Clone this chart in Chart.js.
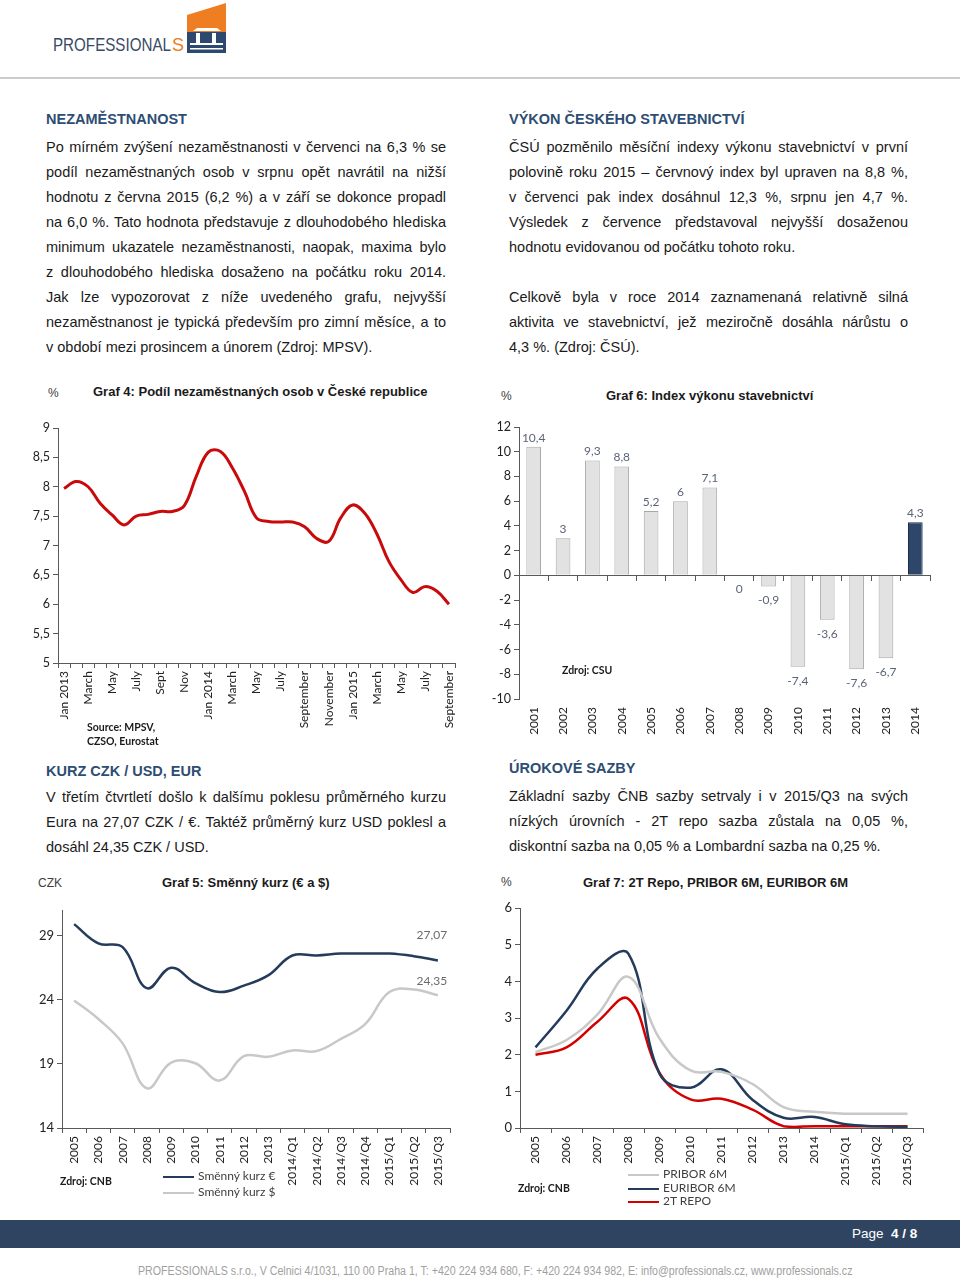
<!DOCTYPE html>
<html>
<head>
<meta charset="utf-8">
<script src="https://cdn.jsdelivr.net/npm/chart.js@4.4.0/dist/chart.umd.min.js"></script>
<style>
  body { margin: 0; width: 960px; height: 1282px; position: relative; background: #fff; font-family: "Liberation Sans", Arial, sans-serif; overflow: hidden; }
  .abs { position: absolute; }
  .head { position: absolute; font-size: 14.5px; font-weight: bold; color: #2e4d73; line-height: 25px; white-space: nowrap; }
  .para { position: absolute; font-size: 14.5px; color: #1a1a1a; line-height: 25px; }
  .para div { text-align: justify; text-align-last: justify; white-space: nowrap; }
  .para div.l { text-align: left; text-align-last: left; }
  .ctitle { position: absolute; font-size: 13px; font-weight: bold; color: #1a1a1a; white-space: nowrap; }
  .unit { position: absolute; font-size: 12px; color: #404040; }
  .src { position: absolute; font-family: Lato, "Open Sans", sans-serif; font-size: 10.5px; font-weight: bold; color: #1a1a1a; line-height: 14px; }
  .leg { position: absolute; font-family: Lato, "Open Sans", sans-serif; font-size: 12px; color: #404040; white-space: nowrap; }
  .leg span { display: inline-block; width: 31px; height: 0; border-top: 2.5px solid; vertical-align: middle; margin-right: 4px; }
  canvas { position: absolute; }
</style>
</head>
<body>

<!-- hlavicka -->
<svg class="abs" style="left:0;top:0" width="240" height="60">
  <polygon points="187,15 226,3 226,32 187,32" fill="#ef7d22"/>
  <polygon points="193,31 197,28 217,28 221,31" fill="#fff"/>
  <rect x="187" y="32" width="39" height="21" fill="#2d4a6e"/>
  <rect x="196" y="33" width="4" height="10" fill="#fff"/>
  <rect x="212" y="33" width="4" height="10" fill="#fff"/>
  <rect x="190" y="43" width="33" height="2" fill="#fff"/>
  <rect x="190" y="48" width="33" height="1.5" fill="#fff"/>
  <text x="53" y="51" font-family="Liberation Sans, Arial, sans-serif" font-size="18" textLength="118" lengthAdjust="spacingAndGlyphs" fill="#3a4a66">PROFESSIONAL</text>
  <text x="172" y="51" font-family="Liberation Sans, Arial, sans-serif" font-size="19" textLength="12" lengthAdjust="spacingAndGlyphs" fill="#ef7d22">S</text>
</svg>
<div class="abs" style="left:0;top:77px;width:960px;height:2px;background:#cbcbcb"></div>

<!-- texty nahore -->
<div class="head" style="left:46px;top:107px">NEZAMĚSTNANOST</div>
<div class="para" style="left:46px;top:135px;width:400px">
  <div>Po mírném zvýšení nezaměstnanosti v červenci na 6,3 % se</div>
  <div>podíl nezaměstnaných osob v srpnu opět navrátil na nižší</div>
  <div>hodnotu z června 2015 (6,2 %) a v září se dokonce propadl</div>
  <div>na 6,0 %. Tato hodnota představuje z dlouhodobého hlediska</div>
  <div>minimum ukazatele nezaměstnanosti, naopak, maxima bylo</div>
  <div>z dlouhodobého hlediska dosaženo na počátku roku 2014.</div>
  <div>Jak lze vypozorovat z níže uvedeného grafu, nejvyšší</div>
  <div>nezaměstnanost je typická především pro zimní měsíce, a to</div>
  <div class="l">v období mezi prosincem a únorem (Zdroj: MPSV).</div>
</div>

<div class="head" style="left:509px;top:107px">VÝKON ČESKÉHO STAVEBNICTVÍ</div>
<div class="para" style="left:509px;top:135px;width:399px">
  <div>ČSÚ pozměnilo měsíční indexy výkonu stavebnictví v první</div>
  <div>polovině roku 2015 – červnový index byl upraven na 8,8 %,</div>
  <div>v červenci pak index dosáhnul 12,3 %, srpnu jen 4,7 %.</div>
  <div>Výsledek z července představoval nejvyšší dosaženou</div>
  <div class="l">hodnotu evidovanou od počátku tohoto roku.</div>
  <div class="l">&nbsp;</div>
  <div>Celkově byla v roce 2014 zaznamenaná relativně silná</div>
  <div>aktivita ve stavebnictví, jež meziročně dosáhla nárůstu o</div>
  <div class="l">4,3 %. (Zdroj: ČSÚ).</div>
</div>

<!-- texty uprostred -->
<div class="head" style="left:46px;top:759px">KURZ CZK / USD, EUR</div>
<div class="para" style="left:46px;top:785px;width:400px">
  <div>V třetím čtvrtletí došlo k dalšímu poklesu průměrného kurzu</div>
  <div>Eura na 27,07 CZK / €. Taktéž průměrný kurz USD poklesl a</div>
  <div class="l">dosáhl 24,35 CZK / USD.</div>
</div>

<div class="head" style="left:509px;top:756px">ÚROKOVÉ SAZBY</div>
<div class="para" style="left:509px;top:784px;width:399px">
  <div>Základní sazby ČNB sazby setrvaly i v 2015/Q3 na svých</div>
  <div>nízkých úrovních - 2T repo sazba zůstala na 0,05 %,</div>
  <div class="l">diskontní sazba na 0,05 % a Lombardní sazba na 0,25 %.</div>
</div>

<!-- grafy -->
<canvas id="graf4" width="470" height="340" style="left:0;top:410px"></canvas>
<canvas id="graf6" width="470" height="340" style="left:480px;top:405px"></canvas>
<canvas id="graf5" width="470" height="320" style="left:0;top:890px"></canvas>
<canvas id="graf7" width="470" height="320" style="left:480px;top:890px"></canvas>

<div class="unit" style="left:48px;top:386px">%</div>
<div class="ctitle" style="left:93px;top:384px">Graf 4: Podíl nezaměstnaných osob v České republice</div>
<div class="src" style="left:87px;top:720px">Source: MPSV,<br>CZSO, Eurostat</div>

<div class="unit" style="left:501px;top:389px">%</div>
<div class="ctitle" style="left:606px;top:388px">Graf 6: Index výkonu stavebnictví</div>
<div class="src" style="left:562px;top:663px">Zdroj: CSU</div>

<div class="unit" style="left:38px;top:876px">CZK</div>
<div class="ctitle" style="left:162px;top:875px">Graf 5: Směnný kurz (€ a $)</div>
<div class="src" style="left:60px;top:1174px">Zdroj: CNB</div>
<div class="leg" style="left:163px;top:1168px"><span style="border-color:#243b5b"></span>Směnný kurz €</div>
<div class="leg" style="left:163px;top:1184px"><span style="border-color:#c8c8c8"></span>Směnný kurz $</div>

<div class="unit" style="left:501px;top:875px">%</div>
<div class="ctitle" style="left:583px;top:875px">Graf 7: 2T Repo, PRIBOR 6M, EURIBOR 6M</div>
<div class="src" style="left:518px;top:1181px">Zdroj: CNB</div>
<div class="leg" style="left:628px;top:1166px"><span style="border-color:#c8c8c8"></span>PRIBOR 6M</div>
<div class="leg" style="left:628px;top:1180px"><span style="border-color:#243b5b"></span>EURIBOR 6M</div>
<div class="leg" style="left:628px;top:1193px"><span style="border-color:#d40000"></span>2T REPO</div>

<!-- paticka -->
<div class="abs" style="left:0;top:1220px;width:960px;height:28px;background:#2e4461"></div>
<div class="abs" style="left:852px;top:1226px;font-size:13.5px;color:#fff;white-space:nowrap">Page &nbsp;<b>4 / 8</b></div>
<div class="abs" style="left:15px;top:1264px;width:960px;text-align:center;font-size:12.5px;color:#a0a0a0;white-space:nowrap">
  <span style="display:inline-block;transform:scaleX(0.85)">PROFESSIONALS s.r.o., V Celnici 4/1031, 110 00 Praha 1, T: +420 224 934 680, F: +420 224 934 982, E: info@professionals.cz, www.professionals.cz</span>
</div>

<script>
// GRAF 4 - nezamestnanost (mesice)
let months = ['Jan 2013', 'Feb', 'March', 'April', 'May', 'June', 'July', 'Aug', 'Sept', 'Oct', 'Nov', 'Dec',
    'Jan 2014', 'Feb', 'March', 'April', 'May', 'June', 'July', 'August', 'September', 'October', 'November', 'December',
    'Jan 2015', 'Feb', 'March', 'April', 'May', 'June', 'July', 'August', 'September'];
let unemployment = [7.97, 8.09, 8.0, 7.72, 7.52, 7.35, 7.5, 7.53, 7.58, 7.58, 7.68, 8.18, 8.59, 8.6, 8.32, 7.92, 7.47,
    7.41, 7.4, 7.4, 7.32, 7.12, 7.07, 7.47, 7.69, 7.55, 7.2, 6.73, 6.42, 6.2, 6.3, 6.22, 6.0];

// GRAF 6 - index stavebnictvi
let years6 = ['2001', '2002', '2003', '2004', '2005', '2006', '2007', '2008', '2009', '2010', '2011', '2012', '2013', '2014'];
let construction = [10.4, 3, 9.3, 8.8, 5.2, 6, 7.1, 0, -0.9, -7.4, -3.6, -7.6, -6.7, 4.3];

// GRAF 5 - smenny kurz
let kurzCategories = ['2005', '2006', '2007', '2008', '2009', '2010', '2011', '2012', '2013',
    '2014/Q1', '2014/Q2', '2014/Q3', '2014/Q4', '2015/Q1', '2015/Q2', '2015/Q3'];
let eurRate = [29.9, 28.4, 28.1, 24.9, 26.5, 25.3, 24.6, 25.1, 25.9, 27.45, 27.45, 27.6, 27.6, 27.6, 27.4, 27.07];
let usdRate = [23.95, 22.5, 20.6, 17.1, 19.1, 19.05, 17.7, 19.6, 19.55, 20.05, 20.0, 20.95, 22.1, 24.6, 24.8, 24.35];
let kurzTicks = [14, 19, 24, 29];

// GRAF 7 - urokove sazby
let rateCategories = ['2005', '2006', '2007', '2008', '2009', '2010', '2011', '2012', '2013', '2014', '2015/Q1', '2015/Q2', '2015/Q3'];
let pribor = [2.07, 2.4, 3.1, 4.12, 2.44, 1.57, 1.53, 1.2, 0.57, 0.44, 0.39, 0.39, 0.39];
let euribor = [2.2, 3.2, 4.35, 4.75, 1.48, 1.1, 1.6, 0.77, 0.28, 0.3, 0.1, 0.05, 0.03];
let repo = [2.0, 2.2, 2.9, 3.52, 1.5, 0.78, 0.8, 0.5, 0.05, 0.05, 0.05, 0.05, 0.05];

Chart.defaults.font.family = 'Lato, "Open Sans", sans-serif';
Chart.defaults.font.size = 12;
Chart.defaults.color = '#333';

let axisColor = '#595959';

function comma(v) {
    return String(v).replace('.', ',');
}

function catAxis(height) {
    return {
        offset: true,
        grid: { drawOnChartArea: false, offset: true, tickLength: 5, color: axisColor },
        border: { color: axisColor },
        ticks: { autoSkip: false, minRotation: 90, maxRotation: 90, padding: 3, color: '#222' },
        afterFit: function (s) { s.height = height; }
    };
}

function valAxis(width, min, max, step, size) {
    return {
        min: min,
        max: max,
        grid: { drawOnChartArea: false, tickLength: 5, color: axisColor },
        border: { color: axisColor },
        ticks: { stepSize: step, padding: 3, color: '#222', font: { size: size }, callback: v => comma(v) },
        afterFit: function (s) { s.width = width; }
    };
}

// popisky hodnot u sloupcu
let barLabels = {
    id: 'barLabels',
    afterDatasetsDraw(chart) {
        let ctx = chart.ctx;
        let meta = chart.getDatasetMeta(0);
        ctx.save();
        ctx.font = '12px Lato, "Open Sans", sans-serif';
        ctx.fillStyle = '#5b6478';
        ctx.textAlign = 'center';
        meta.data.forEach((bar, i) => {
            let v = chart.data.datasets[0].data[i];
            if (v > 0) {
                ctx.textBaseline = 'bottom';
                ctx.fillText(comma(v), bar.x, bar.y - 3);
            } else {
                ctx.textBaseline = 'top';
                ctx.fillText(comma(v), bar.x, bar.y + 8);
            }
        });
        ctx.restore();
    }
};

// popisek posledni hodnoty u car
let endLabels = {
    id: 'endLabels',
    afterDatasetsDraw(chart) {
        let ctx = chart.ctx;
        ctx.save();
        ctx.font = '12px Lato, "Open Sans", sans-serif';
        ctx.fillStyle = '#6b6b6b';
        ctx.textAlign = 'center';
        ctx.textBaseline = 'middle';
        chart.data.datasets.forEach((ds, d) => {
            if (!ds.endLabelDy) return;
            let pts = chart.getDatasetMeta(d).data;
            let last = pts[pts.length - 1];
            ctx.fillText(comma(ds.data[ds.data.length - 1]), last.x - 6, last.y - ds.endLabelDy);
        });
        ctx.restore();
    }
};

// GRAF 4
let axis4 = catAxis(87);
axis4.ticks.callback = (v, i) => i % 2 === 0 ? months[i] : '';

new Chart(document.getElementById('graf4'), {
    type: 'line',
    data: {
        labels: months,
        datasets: [{
            data: unemployment,
            borderColor: '#c80a0a',
            borderWidth: 3,
            pointRadius: 0,
            tension: 0.4
        }]
    },
    options: {
        responsive: false,
        animation: false,
        layout: { padding: { left: 0, right: 15, top: 18, bottom: 0 } },
        plugins: { legend: { display: false }, tooltip: { enabled: false } },
        scales: {
            x: axis4,
            y: valAxis(58, 5, 9, 0.5, 12.5)
        }
    }
});

// GRAF 6
let barColors = construction.map((v, i) => years6[i] === '2014' ? '#2d4669' : '#e2e2e2');
let barBorders = construction.map((v, i) => years6[i] === '2014' ? '#1c2f4a' : '#a8a8a8');

new Chart(document.getElementById('graf6'), {
    type: 'bar',
    data: {
        labels: years6,
        datasets: [{
            data: construction,
            backgroundColor: barColors,
            borderColor: barBorders,
            borderWidth: 1,
            categoryPercentage: 0.5,
            barPercentage: 1
        }]
    },
    options: {
        responsive: false,
        animation: false,
        layout: { padding: { left: 0, right: 20, top: 22, bottom: 0 } },
        plugins: { legend: { display: false }, tooltip: { enabled: false } },
        scales: {
            x: {
                grid: { display: false },
                border: { display: false },
                ticks: { autoSkip: false, minRotation: 90, maxRotation: 90, padding: 0, color: '#222' },
                afterFit: function (s) { s.height = 46; }
            },
            x2: {
                type: 'category',
                axis: 'x',
                position: { y: 0 },
                offset: true,
                grid: { drawOnChartArea: false, offset: true, tickLength: 5, color: axisColor },
                border: { color: axisColor },
                ticks: { display: false }
            },
            y: valAxis(39, -10, 12, 2, 12.5)
        }
    },
    plugins: [barLabels]
});

// GRAF 5
new Chart(document.getElementById('graf5'), {
    type: 'line',
    data: {
        labels: kurzCategories,
        datasets: [{
            label: 'Směnný kurz €',
            data: eurRate,
            borderColor: '#243b5b',
            borderWidth: 2.5,
            pointRadius: 0,
            tension: 0.4,
            endLabelDy: 25
        }, {
            label: 'Směnný kurz $',
            data: usdRate,
            borderColor: '#c8c8c8',
            borderWidth: 2.5,
            pointRadius: 0,
            tension: 0.4,
            endLabelDy: 14
        }]
    },
    options: {
        responsive: false,
        animation: false,
        layout: { padding: { left: 0, right: 20, top: 20, bottom: 0 } },
        plugins: { legend: { display: false }, tooltip: { enabled: false } },
        scales: {
            x: catAxis(82),
            y: Object.assign(valAxis(62, 14, 31, 5, 13), {
                afterBuildTicks: function (s) { s.ticks = kurzTicks.map(v => ({ value: v })); }
            })
        }
    },
    plugins: [endLabels]
});

// GRAF 7
new Chart(document.getElementById('graf7'), {
    type: 'line',
    data: {
        labels: rateCategories,
        datasets: [{
            label: 'PRIBOR 6M',
            data: pribor,
            borderColor: '#c8c8c8',
            borderWidth: 2.5,
            pointRadius: 0,
            tension: 0.4
        }, {
            label: 'EURIBOR 6M',
            data: euribor,
            borderColor: '#243b5b',
            borderWidth: 2.5,
            pointRadius: 0,
            tension: 0.4
        }, {
            label: '2T REPO',
            data: repo,
            borderColor: '#d40000',
            borderWidth: 2.5,
            pointRadius: 0,
            tension: 0.4
        }]
    },
    options: {
        responsive: false,
        animation: false,
        layout: { padding: { left: 0, right: 27, top: 18, bottom: 0 } },
        plugins: { legend: { display: false }, tooltip: { enabled: false } },
        scales: {
            x: catAxis(82),
            y: valAxis(40, 0, 6, 1, 13)
        }
    }
});
</script>
</body>
</html>
